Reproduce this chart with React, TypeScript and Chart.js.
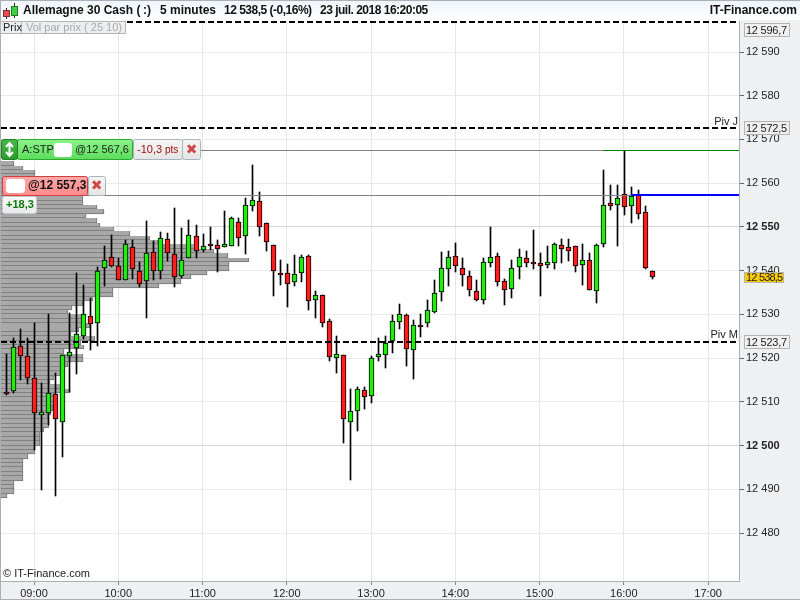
/**
 * DAX 5 minute candlesticks with a volume-by-price profile, pivot levels and order tags.
 */

import { useEffect, useRef } from 'react';
import { Chart, registerables } from 'chart.js';

Chart.register(...registerables);

const FONT = '"Liberation Sans", Arial, sans-serif';

const times = [
  '08:40', '08:45', '08:50', '08:55', '09:00', '09:05', '09:10', '09:15', '09:20', '09:25', '09:30', '09:35',
  '09:40', '09:45', '09:50', '09:55', '10:00', '10:05', '10:10', '10:15', '10:20', '10:25', '10:30', '10:35',
  '10:40', '10:45', '10:50', '10:55', '11:00', '11:05', '11:10', '11:15', '11:20', '11:25', '11:30', '11:35',
  '11:40', '11:45', '11:50', '11:55', '12:00', '12:05', '12:10', '12:15', '12:20', '12:25', '12:30', '12:35',
  '12:40', '12:45', '12:50', '12:55', '13:00', '13:05', '13:10', '13:15', '13:20', '13:25', '13:30', '13:35',
  '13:40', '13:45', '13:50', '13:55', '14:00', '14:05', '14:10', '14:15', '14:20', '14:25', '14:30', '14:35',
  '14:40', '14:45', '14:50', '14:55', '15:00', '15:05', '15:10', '15:15', '15:20', '15:25', '15:30', '15:35',
  '15:40', '15:45', '15:50', '15:55', '16:00', '16:05', '16:10', '16:15', '16:20',
];

const opens = [
  12512.2, 12512.4, 12522.8, 12520.5, 12515.5, 12507.1, 12507.4, 12511.9, 12505.5, 12520.5, 12522.2, 12525.1,
  12529.6, 12528.1, 12540.5, 12543.1, 12541.1, 12537.8, 12545.3, 12539.9, 12537.6, 12544.2, 12539.9, 12547.2,
  12543.7, 12538.7, 12542.8, 12547.9, 12544.7, 12546.1, 12545.8, 12545.3, 12545.6, 12551.1, 12547.9, 12554.7,
  12555.9, 12550.8, 12545.8, 12539.4, 12539.4, 12537.3, 12539.4, 12543.3, 12533.2, 12534.4, 12528.4, 12520.0,
  12520.6, 12505.3, 12507.8, 12512.6, 12511.3, 12520.2, 12520.6, 12523.8, 12528.2, 12529.8, 12521.8, 12527.6,
  12528.0, 12530.6, 12535.1, 12540.3, 12543.3, 12540.5, 12538.7, 12535.3, 12533.2, 12541.7, 12543.3, 12537.6,
  12535.7, 12540.8, 12542.8, 12542.0, 12541.7, 12541.2, 12541.7, 12545.8, 12545.3, 12545.6, 12541.2, 12542.4,
  12535.3, 12546.0, 12555.4, 12554.9, 12557.5, 12554.7, 12557.2, 12553.3, 12539.9,
];
const highs = [
  12520.9, 12524.5, 12526.7, 12524.5, 12528.0, 12514.2, 12530.2, 12516.5, 12520.8, 12530.3, 12539.4, 12536.7,
  12533.8, 12540.9, 12545.6, 12548.2, 12543.0, 12547.0, 12547.0, 12542.0, 12551.4, 12546.8, 12548.9, 12548.6,
  12554.3, 12549.8, 12551.6, 12550.4, 12548.4, 12549.9, 12547.0, 12553.6, 12552.3, 12552.0, 12556.6, 12564.2,
  12557.9, 12550.8, 12545.8, 12542.4, 12541.5, 12543.6, 12543.6, 12543.6, 12535.4, 12534.4, 12528.9, 12525.1,
  12520.7, 12512.9, 12513.3, 12513.3, 12520.5, 12524.5, 12525.1, 12529.9, 12532.3, 12530.2, 12528.7, 12530.1,
  12533.3, 12537.9, 12544.3, 12544.5, 12546.3, 12542.9, 12539.9, 12537.9, 12542.9, 12550.0, 12544.0, 12538.2,
  12542.4, 12544.9, 12544.5, 12549.3, 12544.0, 12545.6, 12546.3, 12547.2, 12547.2, 12545.6, 12546.1, 12544.0,
  12546.0, 12563.0, 12559.6, 12559.6, 12567.4, 12559.1, 12558.4, 12554.8, 12539.9,
];
const lows = [
  12511.6, 12512.1, 12515.0, 12514.1, 12499.0, 12489.8, 12504.7, 12488.5, 12497.4, 12512.3, 12516.4, 12524.4,
  12521.9, 12522.8, 12536.5, 12540.8, 12537.9, 12537.8, 12538.2, 12536.3, 12529.1, 12537.9, 12538.1, 12542.3,
  12536.2, 12538.3, 12542.8, 12542.8, 12544.3, 12544.7, 12539.8, 12545.3, 12545.6, 12545.6, 12543.7, 12553.6,
  12547.9, 12544.6, 12534.2, 12536.7, 12531.8, 12536.5, 12537.5, 12531.0, 12529.2, 12527.2, 12519.4, 12516.7,
  12500.7, 12492.1, 12503.4, 12508.4, 12509.8, 12519.4, 12517.8, 12521.2, 12526.7, 12518.3, 12515.3, 12524.9,
  12527.2, 12530.4, 12533.1, 12536.6, 12539.8, 12536.6, 12534.3, 12533.1, 12532.4, 12540.9, 12536.6, 12532.2,
  12533.8, 12538.2, 12540.9, 12540.4, 12534.3, 12540.6, 12540.4, 12541.8, 12542.2, 12539.8, 12536.8, 12535.5,
  12532.7, 12545.5, 12553.9, 12545.6, 12552.8, 12551.0, 12551.7, 12540.3, 12538.0,
];
const closes = [
  12512.0, 12522.6, 12520.4, 12515.5, 12507.4, 12507.6, 12512.1, 12506.0, 12520.8, 12521.5, 12525.4, 12530.2,
  12527.9, 12539.9, 12542.4, 12541.0, 12537.9, 12546.0, 12540.3, 12536.9, 12544.0, 12539.9, 12547.4, 12544.0,
  12538.5, 12542.4, 12548.1, 12544.4, 12545.6, 12545.8, 12544.9, 12546.0, 12552.0, 12547.4, 12554.9, 12556.1,
  12549.9, 12546.5, 12539.9, 12538.9, 12536.9, 12539.2, 12543.1, 12533.0, 12534.4, 12528.0, 12520.2, 12520.9,
  12506.0, 12507.8, 12512.9, 12511.0, 12520.0, 12520.9, 12523.4, 12528.4, 12530.0, 12522.0, 12527.5, 12527.2,
  12530.9, 12534.8, 12540.5, 12543.1, 12541.0, 12538.9, 12535.5, 12533.4, 12541.9, 12543.1, 12537.3, 12535.5,
  12540.5, 12543.1, 12541.7, 12541.7, 12541.0, 12541.9, 12546.0, 12544.9, 12544.4, 12541.0, 12542.4, 12535.5,
  12545.8, 12554.9, 12554.7, 12556.5, 12554.5, 12557.0, 12552.9, 12540.5, 12538.5,
];

// volume by price, one row per point
const profilePrices = [
  12564.5, 12563.5, 12562.5, 12561.5, 12560.5, 12559.5, 12558.5, 12557.5, 12556.5, 12555.5, 12554.5,
  12553.5, 12552.5, 12551.5, 12550.5, 12549.5, 12548.5, 12547.5, 12546.5, 12545.5, 12544.5, 12543.5,
  12542.5, 12541.5, 12540.5, 12539.5, 12538.5, 12537.5, 12536.5, 12535.5, 12534.5, 12533.5, 12532.5,
  12531.5, 12530.5, 12529.5, 12528.5, 12527.5, 12526.5, 12525.5, 12524.5, 12523.5, 12522.5, 12521.5,
  12520.5, 12519.5, 12518.5, 12517.5, 12516.5, 12515.5, 12514.5, 12513.5, 12512.5, 12511.5, 12510.5,
  12509.5, 12508.5, 12507.5, 12506.5, 12505.5, 12504.5, 12503.5, 12502.5, 12501.5, 12500.5, 12499.5,
  12498.5, 12497.5, 12496.5, 12495.5, 12494.5, 12493.5, 12492.5, 12491.5, 12490.5, 12489.5, 12488.5,
];
const profileVolumes = [
  13, 22, 34, 34, 40, 50, 55, 60, 82, 82, 96,
  103, 85, 96, 99, 113, 129, 149, 157, 197, 213, 227,
  248, 228, 228, 206, 190, 180, 158, 112, 112, 92, 82,
  71, 67, 82, 82, 89, 78, 70, 94, 80, 83, 63,
  82, 82, 67, 60, 60, 53, 49, 63, 69, 53, 53,
  53, 52, 50, 47, 48, 48, 43, 39, 39, 39, 34,
  34, 27, 22, 22, 22, 22, 22, 13, 13, 13, 6,
];

const priceTicks = [12590, 12580, 12570, 12560, 12550, 12540, 12530, 12520, 12510, 12500, 12490, 12480];
const hourTicks = ['09:00', '10:00', '11:00', '12:00', '13:00', '14:00', '15:00', '16:00', '17:00'];

const pivotTop = 12596.7;
const pivotJ = 12572.5;
const pivotM = 12523.7;
const lastPrice = 12538.5;
const stopLevel = 12567.6;
const entryLevel = 12557.3;
const stopColorStart = '15:45';
const entryColorStart = '16:05';

const X_MIN = 516.5;
const X_MAX = 1042;
const Y_MIN = 12469.03;
const Y_MAX = 12597.09;

function toMinutes(t: string): number {
  const [h, m] = t.split(':').map(Number);
  return h * 60 + m;
}

function fmtMinutes(m: number): string {
  return `${String(Math.floor(m / 60)).padStart(2, '0')}:${String(m % 60).padStart(2, '0')}`;
}

function fmtPrice(v: number | string): string {
  return String(v).replace(/^(\d{2})(\d{3})/, '$1 $2');
}

function fmtLevel(v: number): string {
  return fmtPrice(v.toFixed(1)).replace('.', ',');
}

function levelLine(y: number, from: number, to: number, color: string, width: number, dash: number[], order: number) {
  return {
    type: 'line' as const,
    data: [{ x: from, y }, { x: to, y }],
    borderColor: color,
    borderWidth: width,
    borderDash: dash,
    pointRadius: 0,
    order,
  };
}

function priceBox(ctx: CanvasRenderingContext2D, text: string, cy: number, w: number, h: number, fill: string, spacing: string): void {
  const top = Math.round(cy - h / 2) + 0.5;
  ctx.fillStyle = fill;
  ctx.strokeStyle = '#b4b4b4';
  ctx.lineWidth = 1;
  ctx.fillRect(744.5, top, w, h);
  ctx.strokeRect(744.5, top, w, h);
  ctx.fillStyle = '#222';
  ctx.font = `11px ${FONT}`;
  ctx.letterSpacing = spacing;
  ctx.textAlign = 'left';
  ctx.textBaseline = 'middle';
  ctx.fillText(text, 746, top + h / 2 + 0.5);
  ctx.letterSpacing = '0px';
}

function tag(ctx: CanvasRenderingContext2D, x: number, y: number, w: number, h: number, top: string, bottom: string, border: string): void {
  const grad = ctx.createLinearGradient(0, y, 0, y + h);
  grad.addColorStop(0, top);
  grad.addColorStop(1, bottom);
  ctx.fillStyle = grad;
  ctx.strokeStyle = border;
  ctx.lineWidth = 1;
  ctx.beginPath();
  ctx.roundRect(x + 0.5, y + 0.5, w - 1, h - 1, 2);
  ctx.fill();
  ctx.stroke();
}

const backdropPlugin = {
  id: 'backdrop',
  beforeDraw(chart: Chart): void {
    const { ctx, chartArea } = chart;
    ctx.save();
    ctx.fillStyle = '#ffffff';
    ctx.fillRect(0, 0, 800, 600);
    ctx.fillStyle = '#eff0f2';
    ctx.fillRect(chartArea.right, 0, 800 - chartArea.right, 600);
    ctx.fillRect(0, chartArea.bottom, 800, 600 - chartArea.bottom);
    ctx.restore();
  },
};

// the source platform paints on whole pixels, so snap the laid-out elements
const snapPlugin = {
  id: 'snap',
  afterDatasetsUpdate(chart: Chart): void {
    chart.data.datasets.forEach((_, di) => {
      const meta = chart.getDatasetMeta(di);
      meta.data.forEach((el: any) => {
        if (meta.type === 'line') {
          const w = chart.data.datasets[di].borderWidth as number;
          el.y = w % 2 === 0 ? Math.round(el.y - 0.3) : Math.round(el.y) + 0.5;
        } else if (meta.indexAxis === 'y') {
          const top = Math.round(el.y - el.height / 2);
          const bottom = Math.round(el.y + el.height / 2);
          el.height = bottom - top;
          el.y = top + el.height / 2;
          el.x = Math.round(el.x);
        } else {
          el.x = Math.round(el.x) + 0.5;
          const top = Math.round(Math.min(el.y, el.base));
          const bottom = Math.max(Math.round(Math.max(el.y, el.base)), top + 2);
          el.y = top;
          el.base = bottom;
          el.height = bottom - top;
        }
      });
    });
  },
};

const overlayPlugin = {
  id: 'overlay',
  afterDraw(chart: Chart): void {
    const { ctx } = chart;
    const y = chart.scales.y;
    ctx.save();

    // header band
    const head = ctx.createLinearGradient(0, 0, 0, 20);
    head.addColorStop(0, '#eef4fa');
    head.addColorStop(1, '#ffffff');
    ctx.fillStyle = head;
    ctx.fillRect(0, 0, 800, 20);
    ctx.fillStyle = '#a9b0b6';
    ctx.fillRect(0, 0, 800, 1);
    ctx.fillRect(0, 0, 1, 600);
    ctx.fillRect(0, 599, 800, 1);

    // icon
    ctx.fillStyle = '#222';
    ctx.fillRect(6, 8, 1, 11);
    ctx.fillRect(14, 3, 1, 15);
    ctx.fillStyle = '#e85050';
    ctx.fillRect(3, 10, 7, 7);
    ctx.strokeStyle = '#803030';
    ctx.strokeRect(3.5, 10.5, 6, 6);
    ctx.fillStyle = '#40d040';
    ctx.fillRect(11, 6, 7, 10);
    ctx.strokeStyle = '#208020';
    ctx.strokeRect(11.5, 6.5, 6, 9);

    ctx.fillStyle = '#111';
    ctx.font = `bold 12px ${FONT}`;
    ctx.textAlign = 'left';
    ctx.textBaseline = 'middle';
    ctx.fillText('Allemagne 30 Cash (', 23, 11);
    ctx.fillText(':)', 143, 11);
    ctx.fillText('5 minutes', 160, 11);
    ctx.letterSpacing = '-0.5px';
    ctx.fillText('12 538,5 (-0,16%)', 224, 11);
    ctx.fillText('23 juil. 2018 16:20:05', 320, 11);
    ctx.letterSpacing = '0px';
    ctx.textAlign = 'right';
    ctx.fillText('IT-Finance.com', 797, 11);
    ctx.textAlign = 'left';

    // indicator tabs
    ctx.fillStyle = '#eceef0';
    ctx.strokeStyle = '#b4b4b4';
    ctx.fillRect(0, 21, 126, 13);
    ctx.strokeRect(0.5, 21.5, 21, 12);
    ctx.strokeRect(21.5, 21.5, 104, 12);
    ctx.font = `11px ${FONT}`;
    ctx.fillStyle = '#222';
    ctx.fillText('Prix', 3, 28);
    ctx.fillStyle = '#a8a8a8';
    ctx.fillText('Vol par prix ( 25 10)', 26, 28);

    // pivot names
    ctx.fillStyle = '#222';
    ctx.textAlign = 'right';
    ctx.fillText('Piv J', 738, y.getPixelForValue(pivotJ) - 7);
    ctx.fillText('Piv M', 738, y.getPixelForValue(pivotM) - 7);
    ctx.textAlign = 'left';
    ctx.fillText('© IT-Finance.com', 3, 574);

    // right side price tags
    priceBox(ctx, fmtLevel(pivotTop), y.getPixelForValue(pivotTop) + 7, 45, 13, '#f0f0f0', '-0.25px');
    priceBox(ctx, fmtLevel(pivotJ), y.getPixelForValue(pivotJ) - 1, 45, 13, '#f0f0f0', '-0.25px');
    priceBox(ctx, fmtLevel(pivotM), y.getPixelForValue(pivotM), 45, 13, '#f0f0f0', '-0.25px');
    priceBox(ctx, fmtLevel(lastPrice), y.getPixelForValue(lastPrice), 39, 10, '#ffcc00', '-0.8px');

    // stop order tag
    const sy = Math.round(y.getPixelForValue(stopLevel)) - 11;
    tag(ctx, 133, sy, 50, 21, '#f6f6f6', '#e4e4e4', '#aab4bc');
    tag(ctx, 182, sy, 19, 21, '#f6f6f6', '#e4e4e4', '#aab4bc');
    tag(ctx, 17, sy, 116, 21, '#8cf48c', '#5adc5a', '#2fa82f');
    tag(ctx, 1, sy, 17, 21, '#48b848', '#2c9a2c', '#1f7f1f');
    ctx.fillStyle = '#ffffff';
    ctx.beginPath();
    ctx.roundRect(54, sy + 4, 18, 14, 3);
    ctx.fill();
    ctx.strokeStyle = '#ffffff';
    ctx.lineWidth = 2;
    ctx.beginPath();
    ctx.moveTo(9.5, sy + 5);
    ctx.lineTo(9.5, sy + 16);
    ctx.moveTo(6, sy + 8);
    ctx.lineTo(9.5, sy + 4);
    ctx.lineTo(13, sy + 8);
    ctx.moveTo(6, sy + 13);
    ctx.lineTo(9.5, sy + 17);
    ctx.lineTo(13, sy + 13);
    ctx.stroke();
    ctx.fillStyle = '#222';
    ctx.font = `11px ${FONT}`;
    ctx.fillText('A:STP', 22, sy + 11);
    ctx.fillText('@12 567,6', 75, sy + 11);
    ctx.fillStyle = '#a01010';
    ctx.fillText('-10,3', 137, sy + 11);
    ctx.font = `10px ${FONT}`;
    ctx.fillText('pts', 165, sy + 11);
    ctx.fillStyle = '#d04848';
    ctx.font = '14px "DejaVu Sans"';
    ctx.textAlign = 'center';
    ctx.fillText('✖', 191.5, sy + 11);
    ctx.textAlign = 'left';

    // entry tag
    const ey = Math.round(y.getPixelForValue(entryLevel)) - 19;
    tag(ctx, 88, ey, 18, 20, '#f6f6f6', '#e4e4e4', '#aab4bc');
    tag(ctx, 2, ey, 86, 20, '#ffa8a8', '#ff8a8a', '#d04040');
    ctx.fillStyle = '#ffffff';
    ctx.beginPath();
    ctx.roundRect(6, ey + 3, 19, 14, 3);
    ctx.fill();
    ctx.fillStyle = '#111';
    ctx.font = `bold 12px ${FONT}`;
    ctx.fillText('@12 557,3', 28, ey + 10);
    ctx.fillStyle = '#d04848';
    ctx.font = '14px "DejaVu Sans"';
    ctx.textAlign = 'center';
    ctx.fillText('✖', 96.5, ey + 10);
    ctx.textAlign = 'left';
    tag(ctx, 2, ey + 20, 35, 18, '#fafafa', '#e8e8e8', '#c8ccd0');
    ctx.fillStyle = '#0a7a0a';
    ctx.font = `bold 11px ${FONT}`;
    ctx.fillText('+18,3', 6, ey + 29);

    ctx.restore();
  },
};

export default function App(): JSX.Element {
  const canvasRef = useRef<HTMLCanvasElement>(null);

  useEffect(() => {
    document.body.style.margin = '0';
    if (!canvasRef.current) return;

    const minutes = times.map(toMinutes);
    const bodyColors = opens.map((o, i) => (closes[i] >= o ? '#1eee0a' : '#ff1c1c'));

    const chart = new Chart(canvasRef.current, {
      type: 'bar',
      plugins: [backdropPlugin, snapPlugin, overlayPlugin],
      data: {
        datasets: [
          levelLine(pivotTop, X_MIN, X_MAX, '#000000', 2, [6, 3], 0),
          levelLine(pivotJ, X_MIN, X_MAX, '#000000', 2, [6, 3], 0),
          levelLine(pivotM, X_MIN, X_MAX, '#000000', 2, [6, 3], 0),
          levelLine(stopLevel, X_MIN, toMinutes(stopColorStart), '#808080', 1, [], 1),
          levelLine(stopLevel, toMinutes(stopColorStart), X_MAX, '#008000', 1, [], 1),
          levelLine(entryLevel, X_MIN, toMinutes(entryColorStart), '#808080', 1, [], 1),
          levelLine(entryLevel, toMinutes(entryColorStart), X_MAX, '#0000ff', 2, [], 1),
          {
            data: minutes.map((m, i) => ({ x: m, y: [opens[i], closes[i]] })),
            backgroundColor: bodyColors,
            borderColor: '#000000',
            borderWidth: 1,
            borderSkipped: false,
            barThickness: 5,
            grouped: false,
            order: 2,
          },
          {
            data: minutes.map((m, i) => ({ x: m, y: [lows[i], highs[i]] })),
            backgroundColor: '#000000',
            barThickness: 1,
            grouped: false,
            order: 3,
          },
          {
            indexAxis: 'y' as const,
            xAxisID: 'xVol',
            yAxisID: 'yVol',
            data: profilePrices.map((p, i) => ({ x: profileVolumes[i], y: p })),
            backgroundColor: '#a8a8a8',
            borderColor: '#747474',
            borderWidth: { top: 0, right: 1, bottom: 1, left: 0 },
            borderSkipped: false,
            barThickness: 4.4,
            grouped: false,
            order: 10,
          },
        ],
      },
      options: {
        responsive: false,
        devicePixelRatio: 1,
        animation: false,
        layout: { padding: { top: 21, left: 1, right: 0, bottom: 0 } },
        plugins: { legend: { display: false }, tooltip: { enabled: false } },
        scales: {
          x: {
            type: 'linear',
            offset: false,
            min: X_MIN,
            max: X_MAX,
            afterBuildTicks: scale => {
              scale.ticks = hourTicks.map(h => ({ value: toMinutes(h) }));
            },
            afterFit: scale => {
              scale.height = 19;
            },
            grid: { offset: false, color: '#e6e6e6', tickColor: '#8a8a8a', tickLength: 4 },
            border: { color: '#a9b0b6' },
            ticks: {
              color: '#222',
              font: { family: FONT, size: 11 },
              padding: 2,
              maxRotation: 0,
              autoSkip: false,
              callback: v => fmtMinutes(Number(v)),
            },
          },
          y: {
            type: 'linear',
            position: 'right',
            offset: false,
            min: Y_MIN,
            max: Y_MAX,
            afterBuildTicks: scale => {
              scale.ticks = priceTicks.map(value => ({ value }));
            },
            afterFit: scale => {
              scale.width = 61;
            },
            grid: {
              color: c => (c.tick && c.tick.value % 50 === 0 ? '#d6d6d6' : '#ebebeb'),
              tickColor: '#666',
              tickLength: 5,
            },
            border: { color: '#a9b0b6' },
            ticks: {
              color: '#222',
              padding: 2,
              autoSkip: false,
              font: c => ({ family: FONT, size: 11, weight: c.tick && c.tick.value % 50 === 0 ? 'bold' : 'normal' }),
              callback: v => fmtPrice(Number(v)),
            },
          },
          xVol: { type: 'linear', axis: 'x', display: false, offset: false, min: 0, max: 738 },
          yVol: { type: 'linear', axis: 'y', display: false, offset: false, min: Y_MIN, max: Y_MAX },
        },
      },
    });

    return () => { chart.destroy(); };
  }, []);

  return <canvas ref={canvasRef} width={800} height={600} style={{ display: 'block' }} />;
}
